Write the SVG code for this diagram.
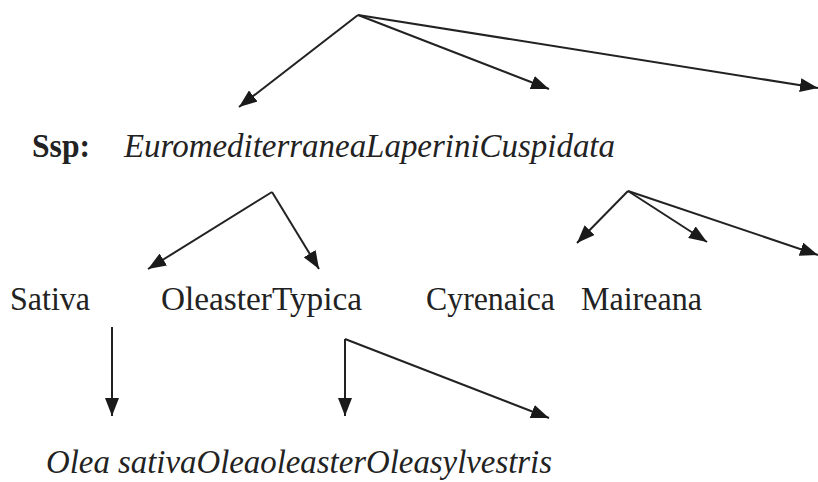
<svg xmlns="http://www.w3.org/2000/svg" width="818" height="482" viewBox="0 0 818 482">
<defs>
<marker id="ah" viewBox="0 0 18 14" refX="18" refY="7" markerWidth="18" markerHeight="14" markerUnits="userSpaceOnUse" orient="auto">
<path d="M0,0 L18,7 L0,14 Z" fill="#1a1a1a"/>
</marker>
<style>
text{fill:#222}
.c{stroke:#222;stroke-width:2;fill:none;marker-end:url(#ah)}
</style>
</defs>
<rect width="818" height="482" fill="#fff"/>
<g id="connectors">
<line class="c" x1="358" y1="15" x2="239" y2="107"/>
<line class="c" x1="358" y1="15" x2="549" y2="89"/>
<line class="c" x1="358" y1="15" x2="818" y2="88"/>
<line class="c" x1="272" y1="192" x2="148" y2="269"/>
<line class="c" x1="272" y1="192" x2="319" y2="269"/>
<line class="c" x1="628" y1="191" x2="577" y2="243"/>
<line class="c" x1="628" y1="191" x2="707" y2="242"/>
<line class="c" x1="628" y1="191" x2="818" y2="255"/>
<line class="c" x1="112" y1="327" x2="112" y2="416"/>
<line class="c" x1="345" y1="339" x2="345" y2="416"/>
<line class="c" x1="345" y1="339" x2="549" y2="418"/>
</g>
<g font-family="'Liberation Serif', 'Times New Roman', serif" font-size="33">
<g id="ssp"><text x="32" y="157" font-weight="bold" textLength="58" lengthAdjust="spacingAndGlyphs">Ssp:</text></g>
<g id="subspecies"><text x="124" y="157" font-style="italic" textLength="491" lengthAdjust="spacingAndGlyphs">EuromediterraneaLaperiniCuspidata</text></g>
<g id="sativa"><text x="10" y="310" textLength="80" lengthAdjust="spacingAndGlyphs">Sativa</text></g>
<g id="oleaster"><text x="161" y="310" textLength="201" lengthAdjust="spacingAndGlyphs">OleasterTypica</text></g>
<g id="cyrenaica"><text x="426" y="310" textLength="129" lengthAdjust="spacingAndGlyphs">Cyrenaica</text></g>
<g id="maireana"><text x="581" y="310" textLength="121" lengthAdjust="spacingAndGlyphs">Maireana</text></g>
<g id="olea"><text x="46" y="473" font-style="italic" textLength="506" lengthAdjust="spacingAndGlyphs">Olea sativaOleaoleasterOleasylvestris</text></g>
</g>
</svg>
